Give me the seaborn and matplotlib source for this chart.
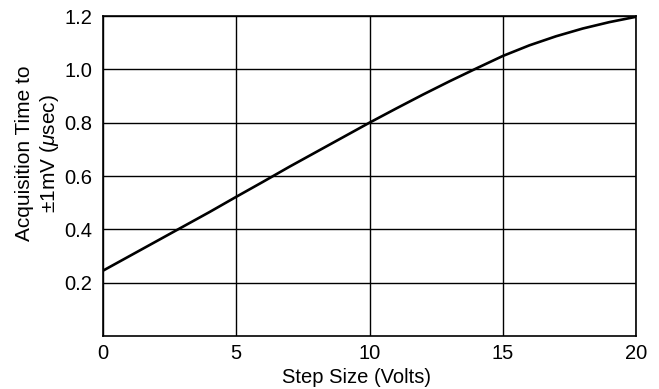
import numpy as np
import pandas as pd
import seaborn as sns
import matplotlib
matplotlib.use("Agg")
import matplotlib.pyplot as plt

step_volts = [0, 1, 2, 3, 4, 5, 6, 7, 8, 9, 10, 11, 12, 13, 14, 15, 16, 17, 18, 19, 20]
acq_time_us = [0.245, 0.30, 0.355, 0.41, 0.465, 0.522, 0.578, 0.635, 0.69, 0.745, 0.80,
               0.853, 0.905, 0.955, 1.003, 1.05, 1.09, 1.124, 1.153, 1.177, 1.197]
x_ticks = [0, 5, 10, 15, 20]
y_ticks = [0.2, 0.4, 0.6, 0.8, 1.0, 1.2]
y_tick_labels = ["0.2", "0.4", "0.6", "0.8", "1.0", "1.2"]

sns.set_theme(style="white")
plt.rcParams['font.family'] = ['Liberation Sans', 'DejaVu Sans']
plt.rcParams['mathtext.fontset'] = 'custom'
plt.rcParams['mathtext.it'] = 'Liberation Sans:italic'

df = pd.DataFrame({"x": step_volts, "y": acq_time_us})

fig = plt.figure(figsize=(6.59, 3.89), dpi=100)
ax = fig.add_axes([103/659, 1 - 336/389, (636-103)/659, (336-16)/389])

ax.set_xlim(0, 20)
ax.set_ylim(0, 1.2)
ax.set_xticks(x_ticks)
ax.set_yticks(y_ticks)
ax.set_yticklabels(y_tick_labels)
ax.grid(True, color="black", linewidth=1.0)
ax.set_axisbelow(True)

sns.lineplot(data=df, x="x", y="y", ax=ax, color="black", linewidth=1.9)

for s in ax.spines.values():
    s.set_color("black")
    s.set_linewidth(1.2)

ax.tick_params(axis="both", length=0, labelsize=14.5, colors="black")
ax.tick_params(axis="x", pad=6)
ax.tick_params(axis="y", pad=8)
ax.set_xlabel("Step Size (Volts)", fontsize=14.5, color="black")
ax.set_ylabel("Acquisition Time to\n±1mV ($\\mu$sec)", fontsize=15, color="black",
              linespacing=1.25)
ax.xaxis.set_label_coords(0.475, -0.10)
ax.yaxis.set_label_coords(-0.078, 0.57)

fig.savefig("out.png", dpi=100)
